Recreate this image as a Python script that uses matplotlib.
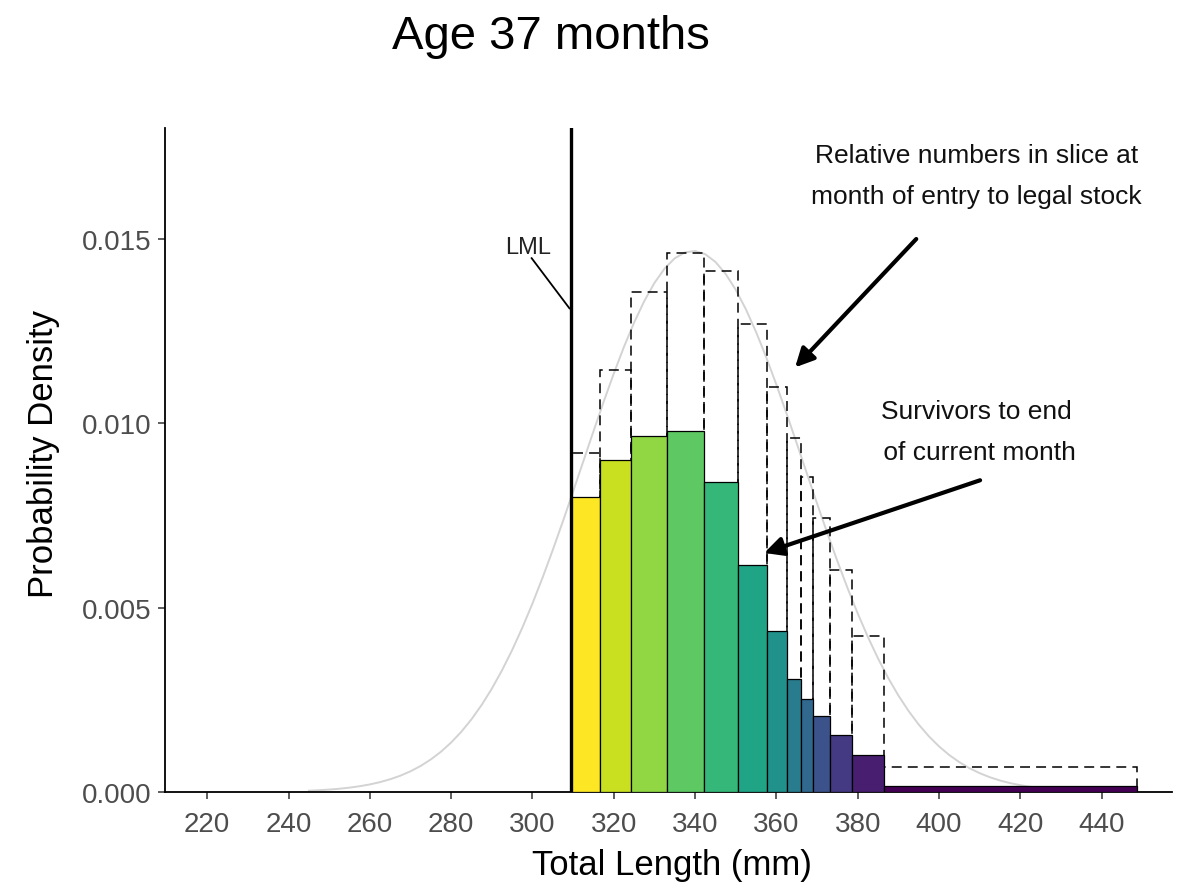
import matplotlib
matplotlib.use('Agg')
import matplotlib.pyplot as plt
import numpy as np

plt.rcParams['font.family'] = ['Liberation Sans', 'DejaVu Sans']

# legal minimum length and slice boundaries (mm)
lml = 309.5
edges = [309.5, 316.6, 324.3, 333.2, 342.3, 350.6, 357.7, 362.5, 366.1,
         369.1, 373.3, 378.7, 386.4, 448.6]
# survivors to end of current month (filled bars)
survivors = [0.00800, 0.00900, 0.00965, 0.00979, 0.00840, 0.00615, 0.00437,
             0.00305, 0.00253, 0.00206, 0.00155, 0.00101, 0.00017]
# relative numbers at month of entry to legal stock (dashed bars)
entry = [0.00920, 0.01143, 0.01356, 0.01460, 0.01413, 0.01269, 0.01099,
         0.00960, 0.00855, 0.00743, 0.00603, 0.00424, 0.00068]

# grey density curve
curve_x = [245, 247.5, 250, 252.5, 255, 257.5, 260, 262.5, 265, 267.5,
           270, 272.5, 275, 277.5, 280, 282.5, 285, 287.5, 290, 292.5,
           295, 297.5, 300, 302.5, 305, 307.5, 310, 312.5, 315, 317.5,
           320, 322.5, 325, 327.5, 330, 332.5, 335, 337.5, 340, 342.5,
           345, 347.5, 350, 352.5, 355, 357.5, 360, 362.5, 365, 367.5,
           370, 372.5, 375, 377.5, 380, 382.5, 385, 387.5, 390, 392.5,
           395, 397.5, 400, 402.5, 405, 407.5, 410, 412.5, 415, 417.5,
           420, 422.5, 425, 427.5, 430, 432.5, 435, 437.5, 440]
curve_y = [0.000035, 0.000048, 0.000065, 0.000088, 0.000118, 0.000156,
           0.000205, 0.000267, 0.000345, 0.000441, 0.000561, 0.000706,
           0.000882, 0.001092, 0.001341, 0.001632, 0.001971, 0.002359,
           0.002800, 0.003296, 0.003847, 0.004452, 0.005109, 0.005815,
           0.006561, 0.007342, 0.008146, 0.008961, 0.009776, 0.010575,
           0.011343, 0.012065, 0.012724, 0.013307, 0.013799, 0.014189,
           0.014468, 0.014627, 0.014665, 0.014578, 0.014370, 0.014046,
           0.013614, 0.013084, 0.012469, 0.011783, 0.011041, 0.010259,
           0.009452, 0.008634, 0.007822, 0.007026, 0.006258, 0.005527,
           0.004841, 0.004204, 0.003620, 0.003091, 0.002617, 0.002197,
           0.001829, 0.001510, 0.001236, 0.001003, 0.000808, 0.000644,
           0.000510, 0.000400, 0.000311, 0.000240, 0.000184, 0.000139,
           0.000105, 0.000078, 0.000058, 0.000042, 0.000031, 0.000022,
           0.000016]

xticks = [220, 240, 260, 280, 300, 320, 340, 360, 380, 400, 420, 440]
yticks = [0.000, 0.005, 0.010, 0.015]

lefts = edges[:-1]
widths = np.diff(edges)
colors = plt.cm.viridis(np.linspace(1, 0, len(survivors)))

fig = plt.figure(figsize=(11.85, 8.87), dpi=100)
ax = fig.add_axes([0.1392, 0.106, 0.8498, 0.7486])

ax.plot(curve_x, curve_y, color='#d3d3d3', lw=1.4, zorder=1)
ax.bar(lefts, entry, width=widths, align='edge', fill=False,
       edgecolor='black', linewidth=1.1, linestyle=(0, (6.5, 4)), zorder=2)
ax.bar(lefts, survivors, width=widths, align='edge', color=colors,
       edgecolor='black', linewidth=0.9, zorder=3)
ax.axvline(lml, color='black', lw=2.4, zorder=4)

# labels and arrows
ax.text(298.9, 0.01478, 'LML', fontsize=17, color='#222222',
        ha='center', va='center')
ax.plot([299.8, 309.1], [0.01447, 0.01311], color='black', lw=1.3, zorder=4)

ax.text(409.2, 0.01672, 'Relative numbers in slice at\nmonth of entry to legal stock',
        fontsize=19, ha='center', va='center', linespacing=1.9, color='#111111')
ax.text(409.2, 0.00978, 'Survivors to end\n of current month',
        fontsize=19, ha='center', va='center', linespacing=1.9, color='#111111')

arrow = dict(arrowstyle='-|>', color='black', lw=3, mutation_scale=28,
             shrinkA=0, shrinkB=0)
ax.annotate('', xy=(364.6, 0.01151), xytext=(394.4, 0.01499), arrowprops=arrow)
ax.annotate('', xy=(357.0, 0.00648), xytext=(410.1, 0.00845), arrowprops=arrow)

ax.set_xlim(209.6, 457.3)
ax.set_ylim(0, 0.018)
ax.set_xticks(xticks)
ax.set_yticks(yticks)
ax.set_yticklabels(['%.3f' % v for v in yticks])
ax.tick_params(axis='both', labelsize=20, labelcolor='#4d4d4d', color='#333333',
               length=5, width=1.1, pad=5)
ax.tick_params(axis='x', pad=8.5)

for side in ['top', 'right']:
    ax.spines[side].set_visible(False)
for side in ['left', 'bottom']:
    ax.spines[side].set_linewidth(1.3)
    ax.spines[side].set_color('black')

ax.set_xlabel('Total Length (mm)', fontsize=25)
ax.set_ylabel('Probability Density', fontsize=25)
ax.xaxis.set_label_coords(0.5035, -0.085)
ax.yaxis.label.set_va('center')
ax.yaxis.set_label_coords(-0.121, 0.511)

fig.text(0.465, 1 - 49 / 887, 'Age 37 months', fontsize=34, ha='center',
         va='baseline')

fig.savefig('out.png', dpi=100)
